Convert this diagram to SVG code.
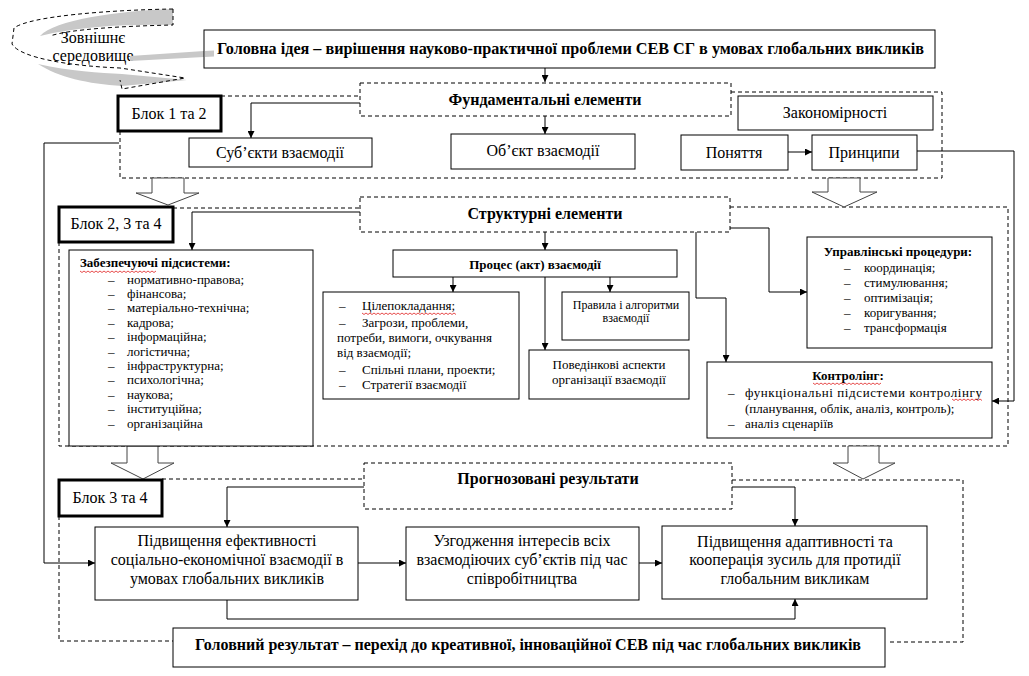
<svg xmlns="http://www.w3.org/2000/svg" width="1029" height="676" viewBox="0 0 1029 676">
<defs>
<marker id="ah" viewBox="0 0 8 8" refX="8" refY="4" markerWidth="8" markerHeight="7" markerUnits="userSpaceOnUse" orient="auto"><path d="M0,0 L8,4 L0,8 z" fill="#000"/></marker>
<style>
text{font-family:"Liberation Serif","DejaVu Serif",serif;fill:#000}
.t16{font-size:16px}
.b16{font-size:16px;font-weight:bold}
.t13{font-size:13px}
.b13{font-size:13px;font-weight:bold}
.t12{font-size:12px}
.c{text-anchor:middle}
.box{fill:#fff;stroke:#000;stroke-width:1}
.dbox{fill:#fff;stroke:#000;stroke-width:1;stroke-dasharray:4 3}
.blk{fill:#fff;stroke:#000;stroke-width:3}
.reg{fill:none;stroke:#000;stroke-width:1;stroke-dasharray:4 3}
.con{fill:none;stroke:#000;stroke-width:1}
.arr{marker-end:url(#ah)}
.hol{fill:#fff;stroke:#444;stroke-width:1}
.sq{fill:none;stroke:#e02020;stroke-width:0.8}
.gr{fill:#c8c8c8}
</style>
</defs>
<rect width="1029" height="676" fill="#fff"/>

<!-- external environment curved arrow -->
<g id="external">
<path class="gr" d="M173,9 L173,25 C130,24 80,26 40,36 C55,20 115,11 173,9 Z"/>
<path class="gr" d="M38,64 C70,71 100,73 122,74 L187,80 L122,86 C88,84 58,77 38,64 Z"/>
<path d="M173,9 C110,10 30,16 14,28 L12,44 C20,58 70,66 120,68 L185,78 L122,89 L120,80" fill="none" stroke="#000" stroke-dasharray="4 3"/>
<path d="M173,9 V25 C125,26 70,29 50,36" fill="none" stroke="#000" stroke-dasharray="4 3"/>
<text class="t16 c" x="93" y="43">Зовнішнє</text>
<text class="t16 c" x="93" y="61">середовище</text>
</g>

<!-- block regions -->
<g id="regions">
<path class="reg" d="M221,96 H360 M731,92 H942 V178 H120 V131"/>
<path class="reg" d="M173,208 H360 M730,207 H1008 V446 H59 V242"/>
<path class="reg" d="M162,479 H364 M732,480 H963 V642 H887 M59,516 V641 H173" stroke="#444"/>
</g>

<!-- hollow arrows -->
<g id="hollow-arrows">
<polygon class="hol" points="152,178 152,193 136,193 168,205 199,193 184,193 184,178"/>
<polygon class="hol" points="828,178 828,192 812,192 844,207 877,192 860,192 860,178"/>
<polygon class="hol" points="127,446 127,463 111,463 143,479 174,463 158,463 158,446"/>
<polygon class="hol" points="848,446 848,463 833,463 863,479 895,463 879,463 879,446"/>
</g>

<g id="header">
<path class="gr" d="M130,56 L204,51 L204,57 L130,61 Z"/>
<rect class="box" x="204" y="30" width="731" height="38"/>
<path class="gr" d="M205,51 L214,50.5 L214,56.5 L205,57 Z"/>
<text class="b16" x="217" y="54" textLength="707" lengthAdjust="spacingAndGlyphs">Головна ідея – вирішення науково-практичної проблеми СЕВ СГ в умовах глобальних викликів</text>
</g>

<g id="block1-label"><rect class="blk" x="118" y="96" width="103" height="35"/><text class="t16 c" x="169" y="119">Блок 1 та 2</text></g>
<g id="fundamental"><rect class="dbox" x="360" y="83" width="371" height="33"/><text class="b16 c" x="545" y="105">Фундаментальні елементи</text></g>
<g id="subjects"><rect class="box" x="189" y="138" width="183" height="29"/><text class="t16 c" x="280" y="158">Суб’єкти взаємодії</text></g>
<g id="object"><rect class="box" x="451" y="134" width="184" height="35"/><text class="t16 c" x="543" y="156">Об’єкт взаємодії</text></g>
<g id="laws"><rect class="box" x="738" y="96" width="195" height="34"/><text class="t16 c" x="835" y="118">Закономірності</text></g>
<g id="concepts"><rect class="box" x="681" y="135" width="107" height="35"/><text class="t16 c" x="734" y="158">Поняття</text></g>
<g id="principles"><rect class="box" x="812" y="135" width="105" height="35"/><text class="t16 c" x="864" y="158">Принципи</text></g>

<g id="block2-label"><rect class="blk" x="59" y="207" width="114" height="35"/><text class="t16 c" x="116" y="229">Блок 2, 3 та 4</text></g>
<g id="structural"><rect class="dbox" x="360" y="197" width="370" height="35"/><text class="b16 c" x="545" y="219">Структурні елементи</text></g>

<g id="supporting">
<rect class="box" x="69" y="250" width="244" height="196"/>
<text class="b13" x="80" y="267">Забезпечуючі підсистеми:</text>
<path class="sq" d="M80,271 l2,1.5 2,-1.5 2,1.5 2,-1.5 2,1.5 2,-1.5 2,1.5 2,-1.5 2,1.5 2,-1.5 2,1.5 2,-1.5 2,1.5 2,-1.5 2,1.5 2,-1.5 2,1.5 2,-1.5 2,1.5 2,-1.5 2,1.5 2,-1.5 2,1.5 2,-1.5 2,1.5 2,-1.5 2,1.5 2,-1.5 2,1.5 2,-1.5 2,1.5 2,-1.5 2,1.5 2,-1.5 2,1.5 2,-1.5 2,1.5 2,-1.5"/>
<g class="t13">
<text x="108" y="283.5">–</text><text x="127" y="283.5">нормативно-правова;</text>
<text x="108" y="297.9">–</text><text x="127" y="297.9">фінансова;</text>
<text x="108" y="312.3">–</text><text x="127" y="312.3">матеріально-технічна;</text>
<text x="108" y="326.7">–</text><text x="127" y="326.7">кадрова;</text>
<text x="108" y="341.1">–</text><text x="127" y="341.1">інформаційна;</text>
<text x="108" y="355.5">–</text><text x="127" y="355.5">логістична;</text>
<text x="108" y="369.9">–</text><text x="127" y="369.9">інфраструктурна;</text>
<text x="108" y="384.3">–</text><text x="127" y="384.3">психологічна;</text>
<text x="108" y="398.7">–</text><text x="127" y="398.7">наукова;</text>
<text x="108" y="413.1">–</text><text x="127" y="413.1">інституційна;</text>
<text x="108" y="427.5">–</text><text x="127" y="427.5">організаційна</text>
</g>
</g>

<g id="process"><rect class="box" x="393" y="250" width="284" height="27"/><text class="b13 c" x="535" y="268.5">Процес (акт) взаємодії</text></g>

<g id="goals">
<rect class="box" x="323" y="292" width="196" height="107"/>
<g class="t13">
<text x="339" y="309.5">–</text><text x="362" y="309.5">Цілепокладання;</text>
<text x="339" y="327">–</text><text x="362" y="327">Загрози, проблеми,</text>
<text x="337" y="341.5">потреби, вимоги,  очкування</text>
<text x="337" y="357">від взаємодії;</text>
<text x="339" y="373.5">–</text><text x="362" y="373.5">Спільні плани, проекти;</text>
<text x="339" y="389">–</text><text x="362" y="389">Стратегії взаємодії</text>
</g>
<path class="sq" d="M362,313 l2,1.5 2,-1.5 2,1.5 2,-1.5 2,1.5 2,-1.5 2,1.5 2,-1.5 2,1.5 2,-1.5 2,1.5 2,-1.5 2,1.5 2,-1.5 2,1.5 2,-1.5 2,1.5 2,-1.5 2,1.5 2,-1.5 2,1.5 2,-1.5 2,1.5 2,-1.5 2,1.5 2,-1.5 2,1.5 2,-1.5 2,1.5 2,-1.5 2,1.5 2,-1.5 2,1.5 2,-1.5 2,1.5 2,-1.5 2,1.5 2,-1.5 2,1.5 2,-1.5 2,1.5 2,-1.5 2,1.5 2,-1.5 2,1.5 2,-1.5 2,1.5"/>
</g>

<g id="rules"><rect class="box" x="562" y="292" width="127" height="48"/><text class="t12 c" x="626" y="309">Правила і алгоритми</text><text class="t12 c" x="626" y="322">взаємодії</text></g>
<g id="behaviour"><rect class="box" x="529" y="350" width="160" height="49"/><text class="t13 c" x="609" y="368.5">Поведінкові  аспекти</text><text class="t13 c" x="609" y="383.5">організації взаємодії</text></g>

<g id="management">
<rect class="box" x="807" y="237" width="185" height="111"/>
<text class="b13 c" x="898" y="255.5">Управлінські процедури:</text>
<g class="t13">
<text x="844" y="271.5">–</text><text x="864" y="271.5">координація;</text>
<text x="844" y="286.5">–</text><text x="864" y="286.5">стимулювання;</text>
<text x="844" y="301.5">–</text><text x="864" y="301.5">оптимізація;</text>
<text x="844" y="316.5">–</text><text x="864" y="316.5">коригування;</text>
<text x="844" y="331.5">–</text><text x="864" y="331.5">трансформація</text>
</g>
</g>

<g id="controlling">
<rect class="box" x="707" y="362" width="285" height="76"/>
<text class="b13 c" x="848" y="379.5">Контролінг:</text>
<g class="t13">
<text x="728" y="396.5">–</text><text x="745" y="396.5" textLength="237" lengthAdjust="spacing">функціональні   підсистеми   контролінгу</text>
<text x="745" y="412.5">(планування, облік, аналіз, контроль);</text>
<text x="728" y="427.5">–</text><text x="745" y="427.5">аналіз сценаріїв</text>
</g>
<path class="sq" d="M813,383 l2,1.5 2,-1.5 2,1.5 2,-1.5 2,1.5 2,-1.5 2,1.5 2,-1.5 2,1.5 2,-1.5 2,1.5 2,-1.5 2,1.5 2,-1.5 2,1.5 2,-1.5 2,1.5 2,-1.5 2,1.5 2,-1.5 2,1.5 2,-1.5 2,1.5 2,-1.5 2,1.5 2,-1.5 2,1.5 2,-1.5 2,1.5 2,-1.5 2,1.5 2,-1.5 2,1.5 2,-1.5"/>
<path class="sq" d="M952,399 l2,1.5 2,-1.5 2,1.5 2,-1.5 2,1.5 2,-1.5 2,1.5 2,-1.5 2,1.5 2,-1.5 2,1.5 2,-1.5 2,1.5 2,-1.5 2,1.5"/>
</g>

<g id="block3-label"><rect class="blk" x="59" y="480" width="103" height="36"/><text class="t16 c" x="110" y="503">Блок 3 та 4</text></g>
<g id="forecast"><rect class="dbox" x="364" y="463" width="368" height="46"/><text class="b16 c" x="548" y="483.5">Прогнозовані результати</text></g>

<g id="efficiency"><rect class="box" x="95" y="527" width="263" height="73"/>
<text class="t16 c" x="227" y="546">Підвищення ефективності</text>
<text class="t16 c" x="227" y="565">соціально-економічної взаємодії в</text>
<text class="t16 c" x="227" y="584">умовах глобальних викликів</text></g>
<g id="coordination"><rect class="box" x="406" y="527" width="233" height="73"/>
<text class="t16 c" x="522" y="546">Узгодження інтересів всіх</text>
<text class="t16 c" x="522" y="565">взаємодіючих суб’єктів під час</text>
<text class="t16 c" x="522" y="584">співробітництва</text></g>
<g id="adaptivity"><rect class="box" x="662" y="526" width="265" height="73"/>
<text class="t16 c" x="795" y="547">Підвищення адаптивності та</text>
<text class="t16 c" x="795" y="565">кооперація зусиль для протидії</text>
<text class="t16 c" x="795" y="584">глобальним викликам</text></g>

<g id="main-result"><rect class="box" x="173" y="628" width="712" height="39"/>
<text class="b16" x="195" y="650" textLength="666" lengthAdjust="spacingAndGlyphs">Головний результат – перехід до креативної, інноваційної СЕВ під час глобальних викликів</text></g>

<g id="connectors">
<path class="con arr" d="M545,68 V82"/>
<path class="con arr" d="M360,103 H251 V138"/>
<path class="con arr" d="M545,116 V134"/>
<path class="con arr" d="M788,152 H812"/>
<path class="con arr" d="M917,151 H1014 V401 H992"/>
<path class="con arr" d="M119,143 H44 V563 H95"/>
<path class="con arr" d="M360,212 H192 V250"/>
<path class="con arr" d="M545,232 V250"/>
<path class="con arr" d="M453,277 V292"/>
<path class="con arr" d="M545,277 V350"/>
<path class="con arr" d="M610,277 V292"/>
<path class="con arr" d="M730,228 H769 V292 H807"/>
<path class="con arr" d="M696,232 V298 H726 V362"/>
<path class="con arr" d="M364,487 H227 V527"/>
<path class="con arr" d="M358,563 H406"/>
<path class="con arr" d="M639,563 H662"/>
<path class="con arr" d="M732,487 H795 V526"/>
<path class="con arr" d="M227,600 V619 H795 V599"/>
</g>
</svg>
